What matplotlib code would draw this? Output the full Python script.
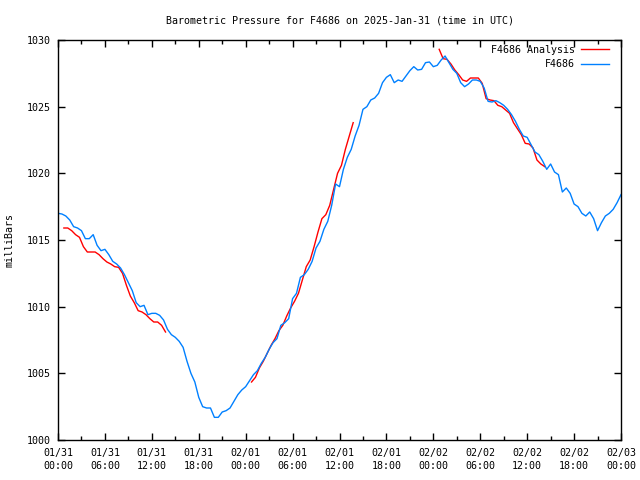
import numpy as np
import matplotlib
matplotlib.use("Agg")
import matplotlib.pyplot as plt

# station pressure (mb), one value every 30 min from 2025-01-31 00:00 UTC
station_step = 0.5
station_pressure = [
    1017.0, 1016.95, 1016.8, 1016.5, 1016.0, 1015.9, 1015.7, 1015.1, 1015.1, 1015.4,
    1014.6, 1014.2, 1014.3, 1013.9, 1013.4, 1013.2, 1012.9, 1012.4, 1011.8, 1011.2,
    1010.3, 1010.0, 1010.1, 1009.4, 1009.5, 1009.5, 1009.35, 1009.0, 1008.3, 1007.9,
    1007.7, 1007.4, 1006.95, 1005.9, 1005.0, 1004.35, 1003.2, 1002.5, 1002.4, 1002.4,
    1001.7, 1001.7, 1002.1, 1002.2, 1002.4, 1002.9, 1003.4, 1003.75, 1004.0, 1004.45,
    1004.9, 1005.2, 1005.75, 1006.2, 1006.8, 1007.3, 1007.6, 1008.6, 1008.8, 1009.1,
    1010.6, 1011.0, 1012.2, 1012.4, 1012.8, 1013.4, 1014.4, 1014.9, 1015.8, 1016.4,
    1017.6, 1019.2, 1019.0, 1020.3, 1021.2, 1021.8, 1022.8, 1023.6, 1024.8, 1025.0,
    1025.5, 1025.65, 1026.0, 1026.8, 1027.2, 1027.4, 1026.8, 1027.0, 1026.9, 1027.3,
    1027.7, 1028.0, 1027.75, 1027.8, 1028.3, 1028.35, 1028.0, 1028.1, 1028.5, 1028.8,
    1028.3, 1027.8, 1027.5, 1026.8, 1026.5, 1026.7, 1027.0, 1027.0, 1026.9, 1026.4,
    1025.4, 1025.35, 1025.45, 1025.3, 1025.1, 1024.8, 1024.4, 1023.9, 1023.3, 1022.8,
    1022.7, 1022.15, 1021.6, 1021.4, 1020.9, 1020.3, 1020.7, 1020.1, 1019.9, 1018.6,
    1018.9, 1018.5, 1017.7, 1017.5, 1017.0, 1016.8, 1017.1, 1016.6, 1015.7, 1016.3,
    1016.8, 1017.0, 1017.3, 1017.8, 1018.4,
]

# analysis pressure, three pieces (start hour, values every 30 min)
analysis_start_1 = 0.75
analysis_1 = [
    1015.9, 1015.9, 1015.7, 1015.4, 1015.2, 1014.5, 1014.1, 1014.1, 1014.1, 1013.9,
    1013.6, 1013.35, 1013.2, 1013.0, 1012.95, 1012.5, 1011.6, 1010.8, 1010.3, 1009.7,
    1009.6, 1009.4, 1009.1, 1008.85, 1008.85, 1008.6, 1008.1,
]
analysis_start_2 = 24.75
analysis_2 = [
    1004.35, 1004.7, 1005.4, 1005.9, 1006.5, 1007.1, 1007.6, 1008.2, 1008.6, 1009.3,
    1009.9, 1010.4, 1011.0, 1012.0, 1013.0, 1013.5, 1014.5, 1015.6, 1016.6, 1016.9,
    1017.6, 1018.8, 1020.0, 1020.6, 1021.8, 1022.8, 1023.8,
]
analysis_start_3 = 48.75
analysis_3 = [
    1029.3, 1028.6, 1028.55, 1028.2, 1027.75, 1027.4, 1027.0, 1026.9, 1027.15, 1027.15,
    1027.15, 1026.75, 1025.6, 1025.5, 1025.45, 1025.1, 1025.0, 1024.75, 1024.5, 1023.8,
    1023.35, 1022.9, 1022.25, 1022.2, 1021.9, 1021.0, 1020.7, 1020.5,
]

tick_hours = list(range(0, 73, 6))
tick_labels = ["01/31\n00:00", "01/31\n06:00", "01/31\n12:00", "01/31\n18:00",
               "02/01\n00:00", "02/01\n06:00", "02/01\n12:00", "02/01\n18:00",
               "02/02\n00:00", "02/02\n06:00", "02/02\n12:00", "02/02\n18:00",
               "02/03\n00:00"]

plt.rcParams['font.family'] = ['DejaVu Sans Mono']
plt.rcParams['font.size'] = 7.2

fig = plt.figure(figsize=(6.4, 4.8), dpi=100)
ax = fig.add_axes([58 / 640, 40 / 480, 563 / 640, 400 / 480])

t_station = np.arange(len(station_pressure)) * station_step

first = True
for start, vals in [(analysis_start_1, analysis_1), (analysis_start_2, analysis_2), (analysis_start_3, analysis_3)]:
    t = start + np.arange(len(vals)) * 0.5
    ax.plot(t, vals, color='#ff0000', lw=1.0, label='F4686 Analysis' if first else None)
    first = False
ax.plot(t_station, station_pressure, color='#0080ff', lw=1.0, label='F4686')

ax.set_xlim(0, 72)
ax.set_ylim(1000, 1030)
ax.set_xticks(tick_hours)
ax.set_xticklabels(tick_labels, linespacing=1.35)
ax.set_xticks(np.arange(3, 72, 6), minor=True)
ax.set_yticks(range(1000, 1031, 5))
ax.tick_params(which='both', direction='in', top=True, right=True, width=1, colors='black')
ax.tick_params(which='major', length=5)
ax.tick_params(axis='x', which='major', pad=6)
ax.tick_params(axis='y', which='major', pad=5)
ax.tick_params(which='minor', length=3)
for s in ax.spines.values():
    s.set_linewidth(1)

ax.set_ylabel('milliBars', labelpad=9)
ax.set_title('Barometric Pressure for F4686 on 2025-Jan-31 (time in UTC)', fontsize=7.2, pad=12)

leg = ax.legend(loc='upper right', bbox_to_anchor=(0.979, 0.988), frameon=False, markerfirst=False,
                handlelength=2.8, handletextpad=0.6, borderaxespad=0, borderpad=0,
                labelspacing=0.45, fontsize=7.2)
for txt in leg.get_texts():
    txt.set_ha('right')

fig.savefig('out.png', dpi=100)
